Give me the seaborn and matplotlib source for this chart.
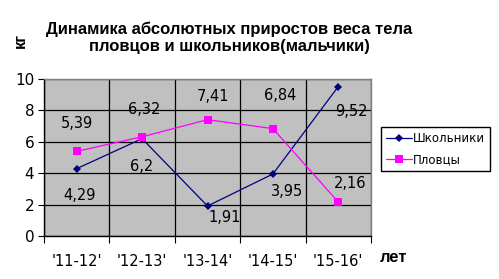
import matplotlib
matplotlib.use("Agg")
import matplotlib.pyplot as plt
import seaborn as sns
import pandas as pd
from matplotlib.ticker import FixedLocator

categories = ["'11-12'", "'12-13'", "'13-14'", "'14-15'", "'15-16'"]
schoolboys = [4.29, 6.2, 1.91, 3.95, 9.52]
swimmers = [5.39, 6.32, 7.41, 6.84, 2.16]
series_names = ["Школьники", "Пловцы"]
title = "Динамика абсолютных приростов веса тела\nпловцов и школьников(мальчики)"

sns.set_style("white")
plt.rcParams['font.family'] = ['DejaVu Sans']
plt.rcParams.update({"text.color": "black", "axes.labelcolor": "black",
                     "xtick.color": "black", "ytick.color": "black"})

df = pd.DataFrame({
    "period": categories * 2,
    "value": schoolboys + swimmers,
    "series": [series_names[0]] * 5 + [series_names[1]] * 5,
})

fig = plt.figure(figsize=(4.99, 2.79), dpi=100)
ax = fig.add_axes([44/499, 43/279, 327/499, 157/279])
ax.set_facecolor("#C0C0C0")

palette = {series_names[0]: "#000080", series_names[1]: "#FF00FF"}
markers = {series_names[0]: "D", series_names[1]: "s"}
sns.lineplot(data=df, x="period", y="value", hue="series", style="series",
             palette=palette, markers=markers, dashes=False, markersize=5,
             linewidth=0.9, markeredgewidth=0, ax=ax, sort=False)
for ln in ax.lines:
    if ln.get_marker() == "D":
        ln.set_markersize(4.5)
    else:
        ln.set_markersize(6)

ax.set_xlim(-0.5, 4.5)
ax.set_ylim(0, 10)
ax.set_yticks(range(0, 11, 2))
ax.xaxis.set_major_locator(FixedLocator(range(5)))
ax.set_xticklabels(categories)
ax.xaxis.set_minor_locator(FixedLocator([i - 0.5 for i in range(6)]))
ax.tick_params(axis="x", which="major", length=0, pad=13, labelsize=10.5)
ax.tick_params(axis="x", which="minor", length=5, width=0.8, color="black", direction="out", bottom=True)
ax.tick_params(axis="y", which="major", length=4, width=0.8, color="black", direction="out", left=True, labelsize=11, pad=3)
ax.grid(False)
ax.grid(axis="y", which="major", color="black", linewidth=0.9)
ax.grid(axis="x", which="minor", color="black", linewidth=0.9)
ax.set_axisbelow(True)
for s in ["top", "right"]:
    ax.spines[s].set_color("#808080")
    ax.spines[s].set_linewidth(1)
for s in ["left", "bottom"]:
    ax.spines[s].set_color("black")
    ax.spines[s].set_linewidth(1)
ax.set_xlabel("")
ax.set_ylabel("")

# data labels
offs_school = [(3, -27), (0, -28), (17, -11), (14, -18), (13, -25)]
offs_swim = [(0, 28), (2, 27), (6, 23), (7, 33), (12, 19)]
for i, (v, o) in enumerate(zip(schoolboys, offs_school)):
    ax.annotate(f"{v:g}".replace(".", ","), (i, v), xytext=o, textcoords="offset pixels",
                ha="center", va="center", fontsize=10.5, color="black")
for i, (v, o) in enumerate(zip(swimmers, offs_swim)):
    ax.annotate(f"{v:g}".replace(".", ","), (i, v), xytext=o, textcoords="offset pixels",
                ha="center", va="center", fontsize=10.5, color="black")

fig.text(229/499, 1 - 38/279, title, ha="center", va="center", fontsize=12,
         fontweight="bold", family=["Liberation Sans"], linespacing=1.15, color="black")
fig.text(20/499, 1 - 40/279, "кг", rotation=90, ha="center", va="center",
         fontsize=12, fontweight="bold", family=["Liberation Sans"], color="black")
fig.text(394/499, 1 - 258/279, "лет", ha="center", va="center",
         fontsize=12, fontweight="bold", family=["Liberation Sans"], color="black")

leg = ax.legend(loc="upper left", bbox_to_anchor=(381/499, 1 - 127/279),
                bbox_transform=fig.transFigure, frameon=True, fancybox=False,
                edgecolor="black", fontsize=8.5, handlelength=2.2,
                borderpad=0.4, labelspacing=0.7, handletextpad=0.1, borderaxespad=0)
leg.get_frame().set_linewidth(1)
leg.get_frame().set_facecolor("white")
leg.get_frame().set_alpha(1)
for t in leg.get_texts():
    t.set_color("black")

fig.savefig("out.png", dpi=100)
